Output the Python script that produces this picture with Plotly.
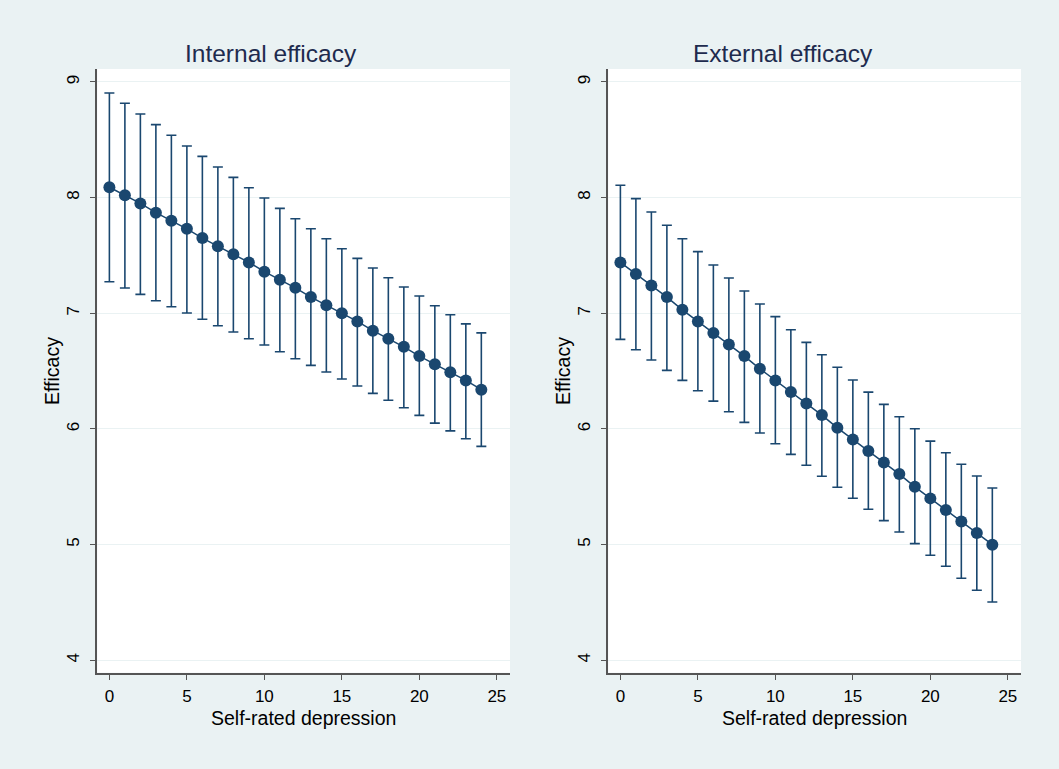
import plotly.graph_objects as go

depression = list(range(25))

internal_mean = [8.09, 8.02, 7.95, 7.87, 7.80, 7.73, 7.65, 7.58, 7.51, 7.44, 7.36, 7.29, 7.22,
                 7.14, 7.07, 7.00, 6.93, 6.85, 6.78, 6.71, 6.63, 6.56, 6.49, 6.42, 6.34]
internal_hi = [8.905, 8.816, 8.723, 8.631, 8.539, 8.446, 8.357, 8.265, 8.175, 8.086, 7.997, 7.907, 7.818,
               7.731, 7.645, 7.558, 7.475, 7.391, 7.307, 7.227, 7.149, 7.065, 6.988, 6.909, 6.831]
internal_lo = [7.273, 7.219, 7.164, 7.109, 7.057, 7.003, 6.948, 6.893, 6.838, 6.780, 6.726, 6.668, 6.607,
               6.550, 6.492, 6.432, 6.371, 6.308, 6.248, 6.183, 6.118, 6.051, 5.984, 5.915, 5.850]

external_mean = [7.44, 7.34, 7.24, 7.14, 7.03, 6.93, 6.83, 6.73, 6.63, 6.52, 6.42, 6.32, 6.22,
                 6.12, 6.01, 5.91, 5.81, 5.71, 5.61, 5.50, 5.40, 5.30, 5.20, 5.10, 5.00]
external_hi = [8.107, 7.991, 7.876, 7.761, 7.645, 7.533, 7.418, 7.305, 7.193, 7.080, 6.971, 6.858, 6.749,
               6.642, 6.533, 6.423, 6.319, 6.213, 6.106, 6.002, 5.895, 5.794, 5.695, 5.594, 5.490]
external_lo = [6.775, 6.685, 6.596, 6.507, 6.420, 6.330, 6.241, 6.149, 6.057, 5.965, 5.872, 5.780, 5.686,
               5.591, 5.496, 5.401, 5.306, 5.208, 5.110, 5.009, 4.909, 4.813, 4.710, 4.606, 4.504]

panel_titles = ["Internal efficacy", "External efficacy"]
x_title = "Self-rated depression"
y_title = "Efficacy"
x_ticks = [0, 5, 10, 15, 20, 25]
y_ticks = [4, 5, 6, 7, 8, 9]

W, H = 1059, 769
NAVY = "#1A476F"
BG = "#EAF2F3"
FONT = "Liberation Sans, Arial, sans-serif"

fig = go.Figure()

def add_series(mean, hi, lo, xa, ya):
    fig.add_trace(go.Scatter(
        x=depression, y=mean, xaxis=xa, yaxis=ya, mode="lines+markers",
        line=dict(color=NAVY, width=1.5),
        marker=dict(color=NAVY, size=12, symbol="circle"),
        error_y=dict(type="data", symmetric=False,
                     array=[h - m for h, m in zip(hi, mean)],
                     arrayminus=[m - l for m, l in zip(mean, lo)],
                     color=NAVY, thickness=1.6, width=5),
        showlegend=False, hoverinfo="skip"))

add_series(internal_mean, internal_hi, internal_lo, "x", "y")
add_series(external_mean, external_hi, external_lo, "x2", "y2")

# pixel geometry
left_dom = [97.3 / W, 510 / W]
right_dom = [608.3 / W, 1021 / W]
y_dom = [1 - 672.7 / H, 1 - 69 / H]

xcommon = dict(range=[-0.78, 25.85], tickvals=x_ticks, ticks="outside", ticklen=6,
               tickcolor="#555555", tickwidth=1.2, showline=True, linecolor="#555555", linewidth=1.5,
               showgrid=False, zeroline=False, tickfont=dict(size=17, color="black", family=FONT),
               ticklabelstandoff=1, fixedrange=True)
ycommon = dict(range=[3.893, 9.112], tickvals=y_ticks, ticks="outside", ticklen=6,
               tickcolor="#555555", tickwidth=1.2, showline=True, linecolor="#555555", linewidth=1.5,
               showgrid=True, gridcolor=BG, gridwidth=1.2, zeroline=False, tickangle=-90,
               tickfont=dict(size=17, color="black", family=FONT), ticklabelstandoff=4,
               fixedrange=True)

fig.update_layout(
    width=W, height=H, margin=dict(l=0, r=0, t=0, b=0),
    paper_bgcolor=BG, plot_bgcolor="white",
    font=dict(family=FONT, color="black"),
    xaxis=dict(domain=left_dom, anchor="y", **xcommon),
    yaxis=dict(domain=y_dom, anchor="x", **ycommon),
    xaxis2=dict(domain=right_dom, anchor="y2", **xcommon),
    yaxis2=dict(domain=y_dom, anchor="x2", **ycommon),
)

annotations = []
for title, cx, ycx, xcx in [(panel_titles[0], 271, 52, 303.7), (panel_titles[1], 783, 563, 814.7)]:
    annotations.append(dict(text=title, x=cx / W, y=1 - 53 / H, xref="paper", yref="paper",
                            xanchor="center", yanchor="middle", showarrow=False,
                            font=dict(size=24.5, color="#1E2B4E", family=FONT)))
    annotations.append(dict(text=y_title, x=ycx / W, y=1 - 371 / H, xref="paper", yref="paper",
                            xanchor="center", yanchor="middle", showarrow=False, textangle=-90,
                            font=dict(size=19.5, color="black", family=FONT)))
    annotations.append(dict(text=x_title, x=xcx / W, y=1 - 718 / H, xref="paper", yref="paper",
                            xanchor="center", yanchor="middle", showarrow=False,
                            font=dict(size=19.5, color="black", family=FONT)))
fig.update_layout(annotations=annotations)

fig.write_html("out.html", config=dict(displayModeBar=False))
